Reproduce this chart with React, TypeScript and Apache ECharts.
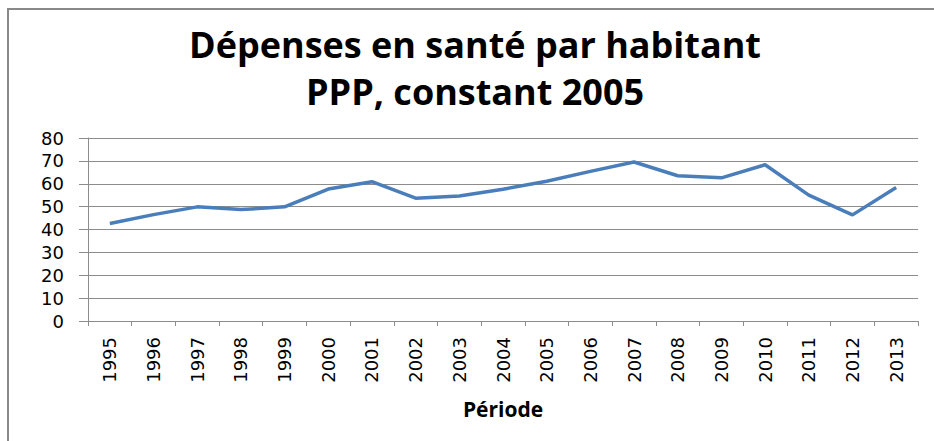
import React, { useEffect, useRef } from "react";
import * as echarts from "echarts";

const years = ["1995","1996","1997","1998","1999","2000","2001","2002","2003","2004","2005","2006","2007","2008","2009","2010","2011","2012","2013"];
const spending = [42.6, 46.5, 49.9, 48.7, 49.9, 57.7, 60.9, 53.7, 54.6, 57.6, 61.1, 65.4, 69.5, 63.5, 62.6, 68.3, 55.0, 46.4, 58.4];
const titleText = "Dépenses en santé par habitant\nPPP, constant 2005";
const xName = "Période";

export default function App() {
  const ref = useRef<HTMLDivElement>(null);
  useEffect(() => {
    const chart = echarts.init(ref.current!, undefined, { renderer: "svg" });
    chart.setOption({
      animation: false,
      backgroundColor: "#ffffff",
      title: {
        text: titleText,
        left: 470,
        textAlign: "center",
        top: 16,
        textStyle: { fontFamily: "Open Sans", fontWeight: "bold", fontSize: 36, lineHeight: 47, color: "#000" },
      },
      grid: { left: 88, right: 16, top: 138, bottom: 120, containLabel: false },
      xAxis: {
        type: "category",
        data: years,
        boundaryGap: true,
        name: xName,
        nameLocation: "middle",
        nameGap: 77,
        nameTextStyle: { fontFamily: "Open Sans", fontWeight: "bold", fontSize: 21, color: "#000" },
        axisLine: { lineStyle: { color: "#8c8c8c", width: 1 } },
        axisTick: { show: true, alignWithLabel: false, length: 5, lineStyle: { color: "#8c8c8c" } },
        axisLabel: { rotate: 90, interval: 0, fontFamily: "DejaVu Sans", fontSize: 18, color: "#000", margin: 16 },
      },
      yAxis: {
        type: "value",
        min: 0,
        max: 80,
        interval: 10,
        axisLine: { show: true, lineStyle: { color: "#8c8c8c", width: 1 } },
        axisTick: { show: true, length: 9, lineStyle: { color: "#8c8c8c" } },
        axisLabel: { fontFamily: "DejaVu Sans", fontSize: 18, color: "#000", margin: 24 },
        splitLine: { lineStyle: { color: "#8c8c8c", width: 1 } },
      },
      series: [
        {
          type: "line",
          data: spending,
          symbol: "none",
          lineStyle: { color: "#4a7ebb", width: 3.5 },
        },
      ],
      graphic: [
        { type: "line", shape: { x1: 8, y1: 9, x2: 934, y2: 9 }, style: { stroke: "#898989", lineWidth: 2 } },
        { type: "line", shape: { x1: 8, y1: 8, x2: 8, y2: 441 }, style: { stroke: "#898989", lineWidth: 2 } },
      ],
    });
    return () => chart.dispose();
  }, []);
  return <div ref={ref} style={{ position: "fixed", left: 0, top: 0, width: 934, height: 441 }} />;
}
